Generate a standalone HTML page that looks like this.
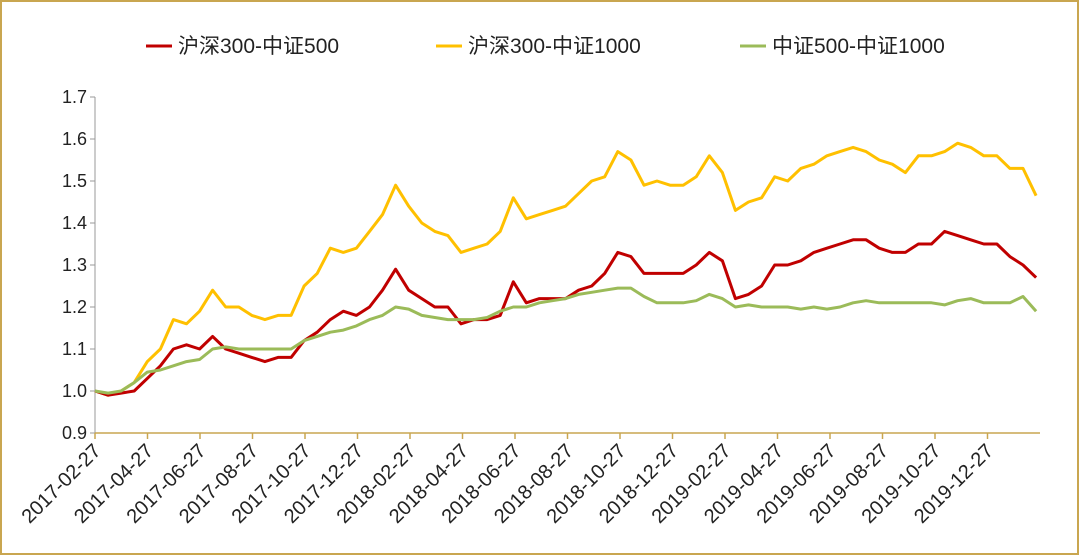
<!DOCTYPE html>
<html><head><meta charset="utf-8"><style>
body{margin:0;background:#fff}
svg{display:block;font-family:"Liberation Sans","Noto Sans CJK SC",sans-serif}
</style></head><body>
<svg id="chart" width="1080" height="556">
<rect x="1" y="1" width="1077" height="553" fill="#fff" stroke="#C9A650" stroke-width="2"/>
<g id="legend">
<g><line x1="146" y1="46" x2="172" y2="46" stroke="#C00000" stroke-width="3"/><text x="178" y="53" font-size="21" fill="#222">沪深300-中证500</text></g>
<g><line x1="436" y1="46" x2="462" y2="46" stroke="#FFC000" stroke-width="3"/><text x="468" y="53" font-size="21" fill="#222">沪深300-中证1000</text></g>
<g><line x1="740" y1="46" x2="766" y2="46" stroke="#9BBB59" stroke-width="3"/><text x="772" y="53" font-size="21" fill="#222">中证500-中证1000</text></g>
</g>
<g id="axes"></g>
<g id="series"></g>
</svg>
<script>
const yTicks=[0.9,1.0,1.1,1.2,1.3,1.4,1.5,1.6,1.7];
const xTickLabels=["2017-02-27","2017-04-27","2017-06-27","2017-08-27","2017-10-27","2017-12-27","2018-02-27","2018-04-27","2018-06-27","2018-08-27","2018-10-27","2018-12-27","2019-02-27","2019-04-27","2019-06-27","2019-08-27","2019-10-27","2019-12-27"];
const xTickMonths=[0,2,4,6,8,10,12,14,16,18,20,22,24,26,28,30,32,34];
const seriesRed=[1.00,0.99,0.995,1.00,1.03,1.06,1.10,1.11,1.10,1.13,1.10,1.09,1.08,1.07,1.08,1.08,1.12,1.14,1.17,1.19,1.18,1.20,1.24,1.29,1.24,1.22,1.20,1.20,1.16,1.17,1.17,1.18,1.26,1.21,1.22,1.22,1.22,1.24,1.25,1.28,1.33,1.32,1.28,1.28,1.28,1.28,1.30,1.33,1.31,1.22,1.23,1.25,1.30,1.30,1.31,1.33,1.34,1.35,1.36,1.36,1.34,1.33,1.33,1.35,1.35,1.38,1.37,1.36,1.35,1.35,1.32,1.30,1.27];
const seriesYellow=[1.00,0.99,1.00,1.02,1.07,1.10,1.17,1.16,1.19,1.24,1.20,1.20,1.18,1.17,1.18,1.18,1.25,1.28,1.34,1.33,1.34,1.38,1.42,1.49,1.44,1.40,1.38,1.37,1.33,1.34,1.35,1.38,1.46,1.41,1.42,1.43,1.44,1.47,1.50,1.51,1.57,1.55,1.49,1.50,1.49,1.49,1.51,1.56,1.52,1.43,1.45,1.46,1.51,1.50,1.53,1.54,1.56,1.57,1.58,1.57,1.55,1.54,1.52,1.56,1.56,1.57,1.59,1.58,1.56,1.56,1.53,1.53,1.465];
const seriesGreen=[1.00,0.995,1.00,1.02,1.045,1.05,1.06,1.07,1.075,1.10,1.105,1.10,1.10,1.10,1.10,1.10,1.12,1.13,1.14,1.145,1.155,1.17,1.18,1.20,1.195,1.18,1.175,1.17,1.17,1.17,1.175,1.19,1.20,1.20,1.21,1.215,1.22,1.23,1.235,1.24,1.245,1.245,1.225,1.21,1.21,1.21,1.215,1.23,1.22,1.20,1.205,1.20,1.20,1.20,1.195,1.20,1.195,1.20,1.21,1.215,1.21,1.21,1.21,1.21,1.21,1.205,1.215,1.22,1.21,1.21,1.21,1.225,1.19];
const NS="http://www.w3.org/2000/svg";
const X0=95,PXM=26.25,Y0=433,PXV=420;
function xs(m){return X0+m*PXM;}
function ys(v){return Y0-(v-0.9)*PXV;}
const axes=document.getElementById('axes');
function mk(t,a,p){const e=document.createElementNS(NS,t);for(const k in a)e.setAttribute(k,a[k]);(p||axes).appendChild(e);return e;}
let ya=mk('line',{x1:X0,y1:ys(1.7),x2:X0,y2:Y0,stroke:'#999','stroke-width':1});


yTicks.forEach(v=>{
  mk('line',{x1:X0-5,y1:ys(v),x2:X0,y2:ys(v),stroke:'#999'});
  const t=mk('text',{x:X0-8,y:ys(v)+6,'text-anchor':'end','font-size':18,fill:'#222'});
  t.textContent=v.toFixed(1);
  
  
});
let xa=mk('line',{x1:X0,y1:Y0,x2:1040,y2:Y0,stroke:'#C9A650','stroke-width':1.5});


xTickLabels.forEach((l,i)=>{
  const x=xs(xTickMonths[i]);
  mk('line',{x1:x,y1:Y0,x2:x,y2:Y0+6,stroke:'#C9A650','stroke-width':1.5});
  const t=mk('text',{x:x+7,y:Y0+19,'text-anchor':'end','font-size':20,fill:'#222',transform:`rotate(-45 ${x+7} ${Y0+19})`});
  t.textContent=l;
  
  
});
const sg=document.getElementById('series');
const lastM=35.85;
[[seriesYellow,'#FFC000','line-hs300-zz1000'],[seriesRed,'#C00000','line-hs300-zz500'],[seriesGreen,'#9BBB59','line-zz500-zz1000']].forEach(([d,c,n])=>{
  const pts=d.map((v,i)=>xs(i*lastM/(d.length-1)).toFixed(1)+','+ys(v).toFixed(1)).join(' ');
  const p=mk('polyline',{points:pts,fill:'none',stroke:c,'stroke-width':3,'stroke-linejoin':'round'},sg);
  
  
});
</script>
</body></html>
